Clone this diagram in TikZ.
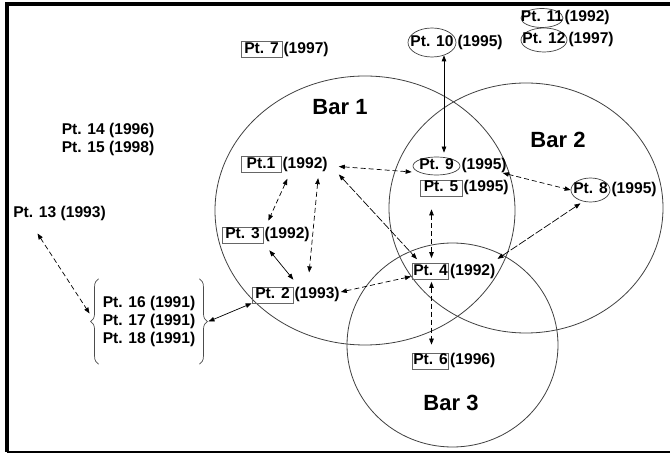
\documentclass[tikz,border=0pt]{standalone}
\usepackage{fontspec}
\setmainfont{Liberation Sans}
\usetikzlibrary{arrows.meta,calc,shapes.geometric,decorations.pathreplacing}
\tikzset{
	>={Triangle[length=6pt,width=4.5pt]},
	every node/.style={font=\bfseries\fontsize{15.6}{18}\selectfont},
	box/.style={
		rectangle,
		draw=black!60,
		line width=0.7pt,
		inner xsep=1pt, inner ysep=0.6pt,
		text height=11.4pt, text depth=3.4pt,
		minimum height=16pt},
	ring/.style={
		ellipse,
		draw=black!75,
		line width=0.7pt,
		inner sep=-12pt,
		text height=11.4pt, text depth=3.4pt},
	year/.style={anchor=west, inner xsep=1pt, inner ysep=0pt,
		text height=11.4pt, text depth=3.4pt},
	ptlabel/.style={inner sep=1pt},
	group/.style={align=left, inner xsep=4pt, minimum height=85pt},
	curly/.style={decorate, decoration={brace, amplitude=8pt}, draw=black!70, line width=0.7pt},
	bar/.style={draw=black!75, line width=0.8pt},
	barname/.style={font=\bfseries\fontsize{22}{26}\selectfont},
	link/.style={<->, line width=0.7pt, dash pattern=on 5pt off 3pt},
	longlink/.style={<->, line width=0.7pt, dash pattern=on 8pt off 2pt},
	solidlink/.style={<->, line width=0.7pt},
}

\begin{document}
\begin{tikzpicture}[x=1pt, y=-1pt]
	\useasboundingbox (0,0) rectangle (670,454);

	% frame: heavy on the left and top, thin at the bottom
	\draw[line width=4pt] (6.5,452) -- (6.5,4.5) -- (670,4.5);
	\draw[line width=1.5pt] (6.5,452) -- (670,452);

	% the three bars
	\draw[bar] (365,210.5) ellipse [x radius=150, y radius=134.5];
	\draw[bar] (526,208) ellipse [x radius=137, y radius=125];
	\draw[bar] (452.5,345) ellipse [x radius=105.5, y radius=102];
	\node[barname] (b1) at (340,107) {Bar 1};
	\node[barname] (b2) at (558,140) {Bar 2};
	\node[barname] (b3) at (451,403) {Bar 3};

	% boxed points, each followed by its year
	\foreach \n/\lab/\yr/\w/\pos in {7/Pt. 7/1997/41/{(261.5,49.5)},
			1/Pt.1/1992/40/{(261,164.5)}, 3/Pt. 3/1992/41/{(242.5,235)},
			2/Pt. 2/1993/41/{(272.5,295)}, 5/Pt. 5/1995/42/{(441,188)},
			4/Pt. 4/1992/35/{(430.5,271.5)}, 6/Pt. 6/1996/35/{(430.5,361)}} {
		\node[box, minimum width=\w pt] (p\n) at \pos {\lab};
		\node[year] (y\n) at (p\n.east) {(\yr)};
	}

	% ringed points
	\foreach \n/\yr/\w/\h/\pos in {10/1995/48/29/{(432,42.5)},
			9/1995/47/18/{(436.5,166)}, 8/1995/39/24/{(590.5,190)},
			11/1992/42/19/{(542,18)}, 12/1997/46/24/{(544,40)}} {
		\node[ring, minimum width=\w pt, minimum height=\h pt] (p\n) at \pos {Pt. \n};
		\node[year] (y\n) at (p\n.east) {(\yr)};
	}

	% loose points
	\node[ptlabel] (p13) at (59.5,213) {Pt. 13 (1993)};
	\node[ptlabel] (p14) at (108,130) {Pt. 14 (1996)};
	\node[ptlabel] (p15) at (108,148) {Pt. 15 (1998)};

	% the bracketed group
	\node[group] (grp) at (149,321.5) {Pt. 16 (1991)\\Pt. 17 (1991)\\Pt. 18 (1991)};
	\draw[curly] (grp.south west) -- (grp.north west);
	\draw[curly] (grp.north east) -- (grp.south east);

	% links between the points
	\draw[link] ($(p13.south)+(-22,12)$) -- ($(grp.west)+(-9,-8)$);
	\draw[solidlink] ($(grp.east)+(9,0)$) -- (p2.south west);
	\draw[link] ($(p1.south east)+(6,6)$) -- ($(p3.north east)+(5,-6)$);
	\draw[link] ($(y1.south)+(13,6)$) -- ($(y2.north)+(-8,-15)$);
	\draw[solidlink] ($(p3.south east)+(6,7)$) -- ($(p2.north east)+(0,-7)$);
	\draw[link] ($(y1.east)+(10,2)$) -- ($(p9.west)+(-1,6)$);
	\draw[longlink] ($(y1.east)+(10,10)$) -- ($(p4.north west)+(5,-4)$);
	\draw[link] ($(y2.east)+(0,-3)$) -- ($(p4.west)+(-1,5)$);
	\draw[link] ($(p4.north |- p5.south)+(1,13)$) -- ($(p4.north)+(1,-5)$);
	\draw[link] ($(p4.south)+(1,2)$) -- ($(p6.north)+(1,-8)$);
	\draw[solidlink] ($(p10.south)+(12,-2)$) -- ($(p9.north)+(7.5,-4)$);
	\draw[link] ($(y9.east)+(-5,7)$) -- (p8.west);
	\draw[longlink] ($(y4.north east)+(1,-5)$) -- ($(p8.south)+(-10,1)$);
\end{tikzpicture}
\end{document}
